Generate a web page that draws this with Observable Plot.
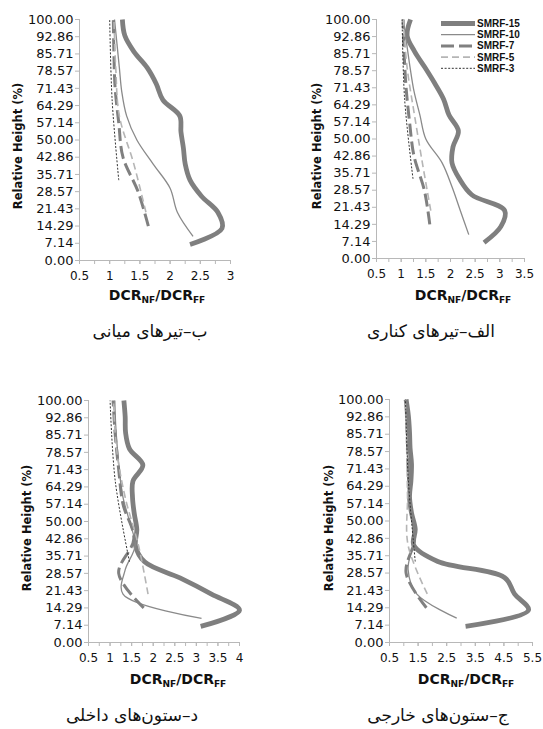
<!DOCTYPE html>
<html>
<head>
<meta charset="utf-8">
<script src="https://cdn.jsdelivr.net/npm/d3@7"></script>
<script src="https://cdn.jsdelivr.net/npm/@observablehq/plot@0.6"></script>
<style>
  html, body { margin: 0; padding: 0; background: #fff; }
  #root { position: relative; width: 543px; height: 729px; overflow: hidden; background: #fff; }
  .panel { position: absolute; }
  .ytitle { position: absolute; font: bold 11.5px "DejaVu Sans", sans-serif; color: #111; white-space: nowrap;
            transform: translate(-50%, -50%) rotate(-90deg); }
  .xtitle { position: absolute; font: bold 14px "DejaVu Sans", sans-serif; color: #111; white-space: nowrap;
            transform: translate(-50%, -50%); }
  .xtitle sub { font-size: 9px; vertical-align: -3px; }
  .caption { position: absolute; font: 17px "DejaVu Serif", "DejaVu Sans", serif; color: #111; white-space: nowrap;
             transform: translate(-50%, -50%); direction: rtl; }
</style>
</head>
<body>
<div id="root"></div>
<script>
// ---------- data ----------
const seriesNames = ["SMRF-15", "SMRF-10", "SMRF-7", "SMRF-5", "SMRF-3"];

// relative storey heights (%) for each frame, bottom to top
const h15 = [6.67, 13.33, 20, 26.67, 33.33, 40, 46.67, 53.33, 60, 66.67, 73.33, 80, 86.67, 93.33, 100];
const h10 = [10, 20, 30, 40, 50, 60, 70, 80, 90, 100];
const h7  = [14.29, 28.57, 42.86, 57.14, 71.43, 85.71, 100];
const h5  = [20, 40, 60, 80, 100];
const h3  = [33.33, 66.67, 100];

// ب - middle beams (top-left)
const midBeam15 = [2.33, 2.86, 2.79, 2.52, 2.33, 2.25, 2.22, 2.18, 2.16, 1.88, 1.77, 1.62, 1.40, 1.25, 1.21];
const midBeam10 = [2.38, 2.12, 2.00, 1.72, 1.45, 1.28, 1.20, 1.16, 1.12, 1.08];
const midBeam7  = [1.64, 1.47, 1.22, 1.15, 1.09, 1.07, 1.06];
const midBeam5  = [1.60, 1.40, 1.16, 1.10, 1.07];
const midBeam3  = [1.15, 1.04, 1.00];

// الف - edge beams (top-right)
const edgeBeam15 = [2.68, 3.02, 3.10, 2.43, 2.18, 2.03, 2.05, 2.16, 1.97, 1.86, 1.68, 1.48, 1.27, 1.12, 1.19];
const edgeBeam10 = [2.37, 2.20, 2.03, 1.83, 1.50, 1.38, 1.26, 1.18, 1.11, 1.03];
const edgeBeam7  = [1.58, 1.47, 1.26, 1.17, 1.10, 1.06, 1.04];
const edgeBeam5  = [1.60, 1.43, 1.27, 1.12, 1.04];
const edgeBeam3  = [1.24, 1.07, 1.02];

// د - interior columns (bottom-left)
const intCol15 = [3.10, 4.00, 3.35, 2.62, 1.80, 1.59, 1.62, 1.56, 1.52, 1.53, 1.76, 1.45, 1.36, 1.35, 1.32];
const intCol10 = [3.12, 1.30, 1.35, 1.58, 1.45, 1.30, 1.22, 1.17, 1.13, 1.11];
const intCol7  = [1.78, 1.20, 1.55, 1.30, 1.20, 1.12, 1.07];
const intCol5  = [1.88, 1.66, 1.35, 1.15, 1.08];
const intCol3  = [1.45, 1.12, 1.00];

// ج - exterior columns (bottom-right)
const extCol15 = [3.16, 5.36, 4.87, 4.53, 2.19, 1.35, 1.40, 1.27, 1.20, 1.25, 1.27, 1.22, 1.20, 1.16, 1.08];
const extCol10 = [2.85, 1.45, 1.15, 1.30, 1.30, 1.22, 1.17, 1.13, 1.10, 1.06];
const extCol7  = [1.79, 1.08, 1.38, 1.22, 1.15, 1.12, 1.07];
const extCol5  = [1.82, 1.15, 1.13, 1.10, 1.05];
const extCol3  = [1.40, 1.16, 1.06];

// tick values / labels
const yTicks = [0, 7.14, 14.29, 21.43, 28.57, 35.71, 42.86, 50, 57.14, 64.29, 71.43, 78.57, 85.71, 92.86, 100];
const xLabelsMidBeam  = [0.5, 1, 1.5, 2, 2.5, 3];
const xLabelsEdgeBeam = [0.5, 1, 1.5, 2, 2.5, 3, 3.5];
const xLabelsIntCol   = [0.5, 1, 1.5, 2, 2.5, 3, 3.5, 4];
const xLabelsExtCol   = [0.5, 1.5, 2.5, 3.5, 4.5, 5.5];
const xMinorMidBeam  = [0.5, 0.75, 1, 1.25, 1.5, 1.75, 2, 2.25, 2.5, 2.75, 3];
const xMinorEdgeBeam = [0.5, 0.75, 1, 1.25, 1.5, 1.75, 2, 2.25, 2.5, 2.75, 3, 3.25, 3.5];
const xMinorIntCol   = [0.5, 0.75, 1, 1.25, 1.5, 1.75, 2, 2.25, 2.5, 2.75, 3, 3.25, 3.5, 3.75, 4];
const xMinorExtCol   = [0.5, 1, 1.5, 2, 2.5, 3, 3.5, 4, 4.5, 5, 5.5];

const captions = ["ب–تیرهای میانی", "الف–تیرهای کناری", "د–ستون‌های داخلی", "ج–ستون‌های خارجی"];
const yTitle = "Relative Height (%)";

// ---------- styles ----------
const heights = [h15, h10, h7, h5, h3];
const lineStyles = [
  {stroke: "#7f7f7f", strokeWidth: 4.8, dash: null},
  {stroke: "#8a8a8a", strokeWidth: 1.3, dash: null},
  {stroke: "#808080", strokeWidth: 3, dash: "13,5"},
  {stroke: "#b5b5b5", strokeWidth: 1.6, dash: "7,4"},
  {stroke: "#333333", strokeWidth: 1, dash: "2,1.6"}
];
const axisGrey = "#b8b8b8";

const root = document.getElementById("root");

function panel(values, xLabels, xMinor, box) {
  const marks = [
    Plot.ruleX([xLabels[0]], {stroke: axisGrey}),
    Plot.ruleY([0], {stroke: axisGrey}),
    Plot.axisY({ticks: yTicks, tickFormat: d => d.toFixed(2), tickSize: 4, tickPadding: 2,
                stroke: axisGrey, fill: "#111", fontSize: 13, label: null}),
    Plot.axisX({ticks: xMinor, tickFormat: () => "", tickSize: 4, stroke: axisGrey, label: null}),
    Plot.axisX({ticks: xLabels, tickFormat: d => String(d), tickSize: 4, tickPadding: 7,
                stroke: axisGrey, fill: "#111", fontSize: 12, label: null})
  ];
  values.forEach((vals, i) => {
    const rows = vals.map((v, j) => ({v, h: heights[i][j]}));
    const st = lineStyles[i];
    marks.push(Plot.line(rows, {x: "v", y: "h", curve: "catmull-rom", stroke: st.stroke,
      strokeWidth: st.strokeWidth, strokeDasharray: st.dash || undefined, strokeLinecap: "butt"}));
  });
  const svg = Plot.plot({
    width: box.w, height: box.h,
    marginLeft: box.l, marginRight: box.r, marginTop: box.t, marginBottom: box.b,
    x: {domain: [xLabels[0], xLabels[xLabels.length - 1]]},
    y: {domain: [0, 100]},
    style: {fontFamily: "DejaVu Sans, sans-serif", background: "transparent", overflow: "visible", color: "#111"},
    marks
  });
  const div = document.createElement("div");
  div.className = "panel";
  div.style.left = box.x + "px";
  div.style.top = box.y + "px";
  div.appendChild(svg);
  root.appendChild(div);
}

function addText(cls, html, x, y) {
  const d = document.createElement("div");
  d.className = cls;
  d.innerHTML = html;
  d.style.left = x + "px";
  d.style.top = y + "px";
  root.appendChild(d);
}

panel([midBeam15, midBeam10, midBeam7, midBeam5, midBeam3], xLabelsMidBeam, xMinorMidBeam,
      {x: 0, y: 0, w: 272, h: 290, l: 79, r: 42, t: 19, b: 30});
panel([edgeBeam15, edgeBeam10, edgeBeam7, edgeBeam5, edgeBeam3], xLabelsEdgeBeam, xMinorEdgeBeam,
      {x: 272, y: 0, w: 271, h: 290, l: 104, r: 19, t: 19, b: 32});
panel([intCol15, intCol10, intCol7, intCol5, intCol3], xLabelsIntCol, xMinorIntCol,
      {x: 0, y: 370, w: 272, h: 300, l: 88, r: 33, t: 30, b: 28});
panel([extCol15, extCol10, extCol7, extCol5, extCol3], xLabelsExtCol, xMinorExtCol,
      {x: 272, y: 370, w: 271, h: 300, l: 117, r: 11, t: 29, b: 28});

const xTitle = "DCR<sub>NF</sub>/DCR<sub>FF</sub>";
[[18, 146], [317, 146], [27, 528], [329, 528]].forEach(([x, y]) => addText("ytitle", yTitle, x, y));
[[157, 296], [463, 296], [178, 680], [466, 680]].forEach(([x, y]) => addText("xtitle", xTitle, x, y));
[[150, 331], [431, 331], [132, 715], [438, 715]].forEach(([x, y], i) => addText("caption", captions[i], x, y));

// legend (top-right panel)
const leg = d3.select(root).append("svg")
  .attr("width", 105).attr("height", 70)
  .style("position", "absolute").style("left", "438px").style("top", "16px");
seriesNames.forEach((name, i) => {
  const st = lineStyles[i];
  const yy = 7.5 + i * 11.2;
  leg.append("line").attr("x1", 3).attr("x2", 37).attr("y1", yy).attr("y2", yy)
    .attr("stroke", st.stroke).attr("stroke-width", st.strokeWidth)
    .attr("stroke-dasharray", st.dash);
  leg.append("text").attr("x", 39).attr("y", yy).attr("dy", "0.35em")
    .attr("font-family", "Liberation Sans, Arial, sans-serif").attr("font-weight", "bold")
    .attr("font-size", 10).attr("fill", "#111").text(name);
});
</script>
</body>
</html>
